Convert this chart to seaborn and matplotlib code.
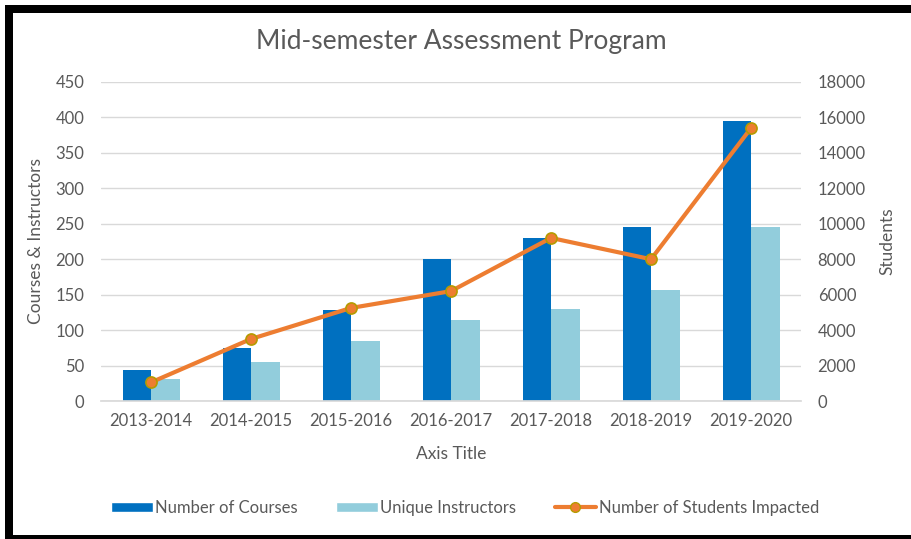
import numpy as np
import pandas as pd
import matplotlib
matplotlib.use("Agg")
import matplotlib.pyplot as plt
import seaborn as sns
from matplotlib.patches import Rectangle
from matplotlib.lines import Line2D
from matplotlib.patches import Patch

# ---- data ----
years = ["2013-2014", "2014-2015", "2015-2016", "2016-2017", "2017-2018", "2018-2019", "2019-2020"]
courses = [44, 75, 129, 200, 230, 246, 395]
instructors = [31, 55, 85, 114, 130, 157, 245]
students = [1050, 3500, 5250, 6200, 9200, 8000, 15400]
left_ticks = [0, 50, 100, 150, 200, 250, 300, 350, 400, 450]
right_ticks = [0, 2000, 4000, 6000, 8000, 10000, 12000, 14000, 16000, 18000]

series_names = ["Number of Courses", "Unique Instructors"]
line_name = "Number of Students Impacted"

c_courses = "#0070C0"
c_instr = "#92CDDC"
c_line = "#ED7D31"
c_edge = "#B59B00"
c_text = "#595959"
c_grid = "#D9D9D9"

sns.set_theme(style="white")
plt.rcParams["font.family"] = ["Lato", "DejaVu Sans"]

df = pd.DataFrame({
    "year": years * 2,
    "value": courses + instructors,
    "series": [series_names[0]] * len(years) + [series_names[1]] * len(years),
})

fig = plt.figure(figsize=(9.12, 5.39), dpi=100)
ax = fig.add_axes([101 / 912, (539 - 401) / 539, 700 / 912, 319 / 539])

sns.barplot(data=df, x="year", y="value", hue="series", order=years,
            hue_order=series_names, palette=[c_courses, c_instr],
            width=0.57, saturation=1, ax=ax, legend=False, errorbar=None,
            linewidth=0)

ax.set_ylim(0, 450)
ax.set_yticks(left_ticks)
ax.set_xlim(-0.5, len(years) - 0.5)
ax.grid(axis="y", color=c_grid, linewidth=1)
ax.set_axisbelow(True)
for s in ["top", "right", "left"]:
    ax.spines[s].set_visible(False)
ax.spines["bottom"].set_color(c_grid)
ax.tick_params(axis="x", colors=c_text, labelsize=12, length=0, pad=9)
ax.tick_params(axis="y", colors=c_text, labelsize=12, length=0, pad=12)
ax.set_xlabel("Axis Title", color=c_text, fontsize=12.5, labelpad=12)
ax.set_ylabel("Courses & Instructors", color=c_text, fontsize=12.5, labelpad=8)

ax2 = ax.twinx()
sns.lineplot(x=np.arange(len(years)), y=students, ax=ax2, color=c_line,
             linewidth=3, marker="o", markersize=8, markerfacecolor=c_line,
             markeredgecolor=c_edge, markeredgewidth=1.2)
ax2.set_ylim(0, 18000)
ax2.set_yticks(right_ticks)
for s in ["top", "right", "left", "bottom"]:
    ax2.spines[s].set_visible(False)
ax2.tick_params(axis="y", colors=c_text, labelsize=12, length=0, pad=12)
ax2.set_ylabel("Students", color=c_text, fontsize=12.5, labelpad=10)
ax2.grid(False)

fig.text(461 / 912, (539 - 42) / 539, "Mid-semester Assessment Program",
         ha="center", va="center", fontsize=19, color=c_text)

handles = [
    Patch(facecolor=c_courses, label=series_names[0]),
    Patch(facecolor=c_instr, label=series_names[1]),
    Line2D([0], [0], color=c_line, linewidth=3, marker="o", markersize=7,
           markerfacecolor=c_line, markeredgecolor=c_edge, label=line_name),
]
leg = fig.legend(handles=handles, loc="center", ncol=3,
                 bbox_to_anchor=(465 / 912, (539 - 508) / 539), frameon=False,
                 fontsize=12, handlelength=2.5, handleheight=0.6,
                 columnspacing=2.3, handletextpad=0.15)
for t in leg.get_texts():
    t.set_color(c_text)

# black frame
frame = Rectangle((9, 0), 905, 530, transform=None, fill=False,
                  edgecolor="black", linewidth=8 * 72 / 100, zorder=10)
fig.patches.append(frame)

fig.savefig("out.png", dpi=100)
